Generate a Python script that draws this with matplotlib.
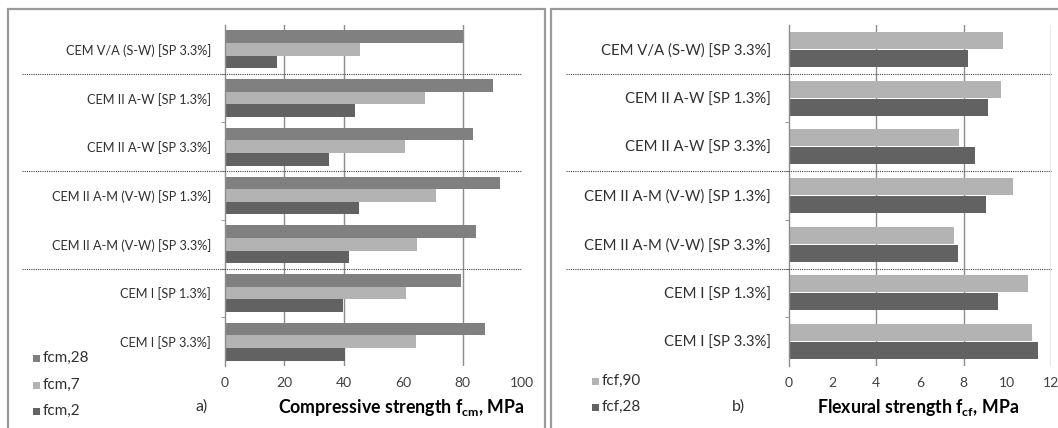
import matplotlib
matplotlib.use('Agg')
import matplotlib.pyplot as plt
from matplotlib.patches import Rectangle
import numpy as np

plt.rcParams['font.family'] = ['Lato', 'DejaVu Sans']

# data (top to bottom, as in the picture)
categories = ['CEM V/A (S-W) [SP 3.3%]', 'CEM II A-W [SP 1.3%]', 'CEM II A-W [SP 3.3%]',
              'CEM II A-M (V-W) [SP 1.3%]', 'CEM II A-M (V-W) [SP 3.3%]',
              'CEM I [SP 1.3%]', 'CEM I [SP 3.3%]']
fcm28 = [80.0, 90.4, 83.4, 92.5, 84.4, 79.3, 87.4]
fcm7 = [45.4, 67.3, 60.5, 71.1, 64.8, 60.8, 64.3]
fcm2 = [17.6, 43.7, 35.1, 45.0, 41.6, 39.8, 40.5]
fcf90 = [9.82, 9.70, 7.77, 10.24, 7.58, 10.94, 11.11]
fcf28 = [8.20, 9.13, 8.54, 9.00, 7.76, 9.59, 11.42]
group_breaks = [0.5, 2.5, 4.5]

W, H = 1058, 428
c_dark = '#626262'
c_mid = '#808080'
c_light = '#b3b3b3'
c_grid = '#8c8c8c'


def px_rect(x0, y0, x1, y1):
    return [x0 / W, 1 - y1 / H, (x1 - x0) / W, (y1 - y0) / H]


fig = plt.figure(figsize=(W / 100, H / 100), dpi=100)
fig.patch.set_facecolor('white')

# panel frames
for x0, x1 in [(8, 545), (551, 1064)]:
    fig.patches.append(Rectangle((x0 / W, 1 - 432 / H), (x1 - x0) / W, (432 - 9) / H,
                                 transform=fig.transFigure, fill=False,
                                 edgecolor='#9a9a9a', linewidth=1.6))


def style_axis(ax, xmax, grid_at, lab_size, lab_pad, line_from):
    y = np.arange(len(categories))
    ax.set_ylim(len(categories) - 0.5, -0.5)
    ax.set_xlim(0, xmax)
    ax.set_yticks(y)
    ax.set_yticklabels(categories, fontsize=lab_size, color='#303030')
    ax.tick_params(axis='y', which='major', length=0, pad=lab_pad)
    ax.set_yticks(np.arange(len(categories) - 1) + 0.5, minor=True)
    ax.tick_params(axis='y', which='minor', length=3, color=c_grid)
    ax.tick_params(axis='x', length=0, labelsize=10, labelcolor='#404040', pad=8)
    for s in ['top', 'right', 'bottom']:
        ax.spines[s].set_visible(False)
    ax.spines['left'].set_color(c_grid)
    ax.spines['left'].set_linewidth(1)
    for g in grid_at:
        ax.axvline(g, color=c_grid, lw=1, zorder=0)
    for b in group_breaks:
        ax.axhline(b, xmin=line_from, xmax=1.0, color='#444444', lw=0.8,
                   ls=(0, (1, 1)), clip_on=False, zorder=5)
    ax.set_facecolor('none')


# left panel: compressive strength
ax1 = fig.add_axes(px_rect(225, 25, 522, 366))
y = np.arange(len(categories))
h1 = 0.26
ax1.barh(y - h1, fcm28, height=h1, color=c_mid, label='fcm,28', zorder=2)
ax1.barh(y, fcm7, height=h1, color=c_light, label='fcm,7', zorder=2)
ax1.barh(y + h1, fcm2, height=h1, color=c_dark, label='fcm,2', zorder=2)
style_axis(ax1, 100, [20, 40, 80], 9.2, 10, (22 - 225) / (522 - 225))
ax1.set_xticks([0, 20, 40, 60, 80, 100])

# right panel: flexural strength
ax2 = fig.add_axes(px_rect(789, 25, 1051, 366))
h2 = 0.35
ax2.barh(y - h2 / 2 - 0.01, fcf90, height=h2, color=c_light, label='fcf,90', zorder=2)
ax2.barh(y + h2 / 2 + 0.01, fcf28, height=h2, color=c_dark, label='fcf,28', zorder=2)
style_axis(ax2, 12, [4, 8, 12], 10.7, 13, (566 - 789) / (1051 - 789))
ax2.set_xticks([0, 2, 4, 6, 8, 10, 12])

# axis titles and panel letters
fig.text(525 / W, 1 - 407 / H, 'Compressive strength f$_{\\mathregular{cm}}$, MPa',
         ha='right', va='center', fontsize=12.8, fontweight='bold')
fig.text(202 / W, 1 - 407 / H, 'a)', ha='center', va='center', fontsize=11.5, color='#303030')
fig.text(1019 / W, 1 - 407 / H, 'Flexural strength f$_{\\mathregular{cf}}$, MPa',
         ha='right', va='center', fontsize=12.8, fontweight='bold')
fig.text(738 / W, 1 - 407 / H, 'b)', ha='center', va='center', fontsize=11.5, color='#303030')


# legends
def add_legend(labels, colors, x, ys):
    for lab, col, yy in zip(labels, colors, ys):
        fig.patches.append(Rectangle((x / W, 1 - (yy + 3.5) / H), 7 / W, 7 / H,
                                     transform=fig.transFigure, facecolor=col,
                                     edgecolor='none'))
        fig.text((x + 10) / W, 1 - yy / H, lab, ha='left', va='center',
                 fontsize=11, color='#303030')


add_legend(['fcm,28', 'fcm,7', 'fcm,2'], [c_mid, c_light, c_dark], 33, [358, 385, 411])
add_legend(['fcf,90', 'fcf,28'], [c_light, c_dark], 592, [381, 407])

fig.savefig('out.png', dpi=100, facecolor='white')
